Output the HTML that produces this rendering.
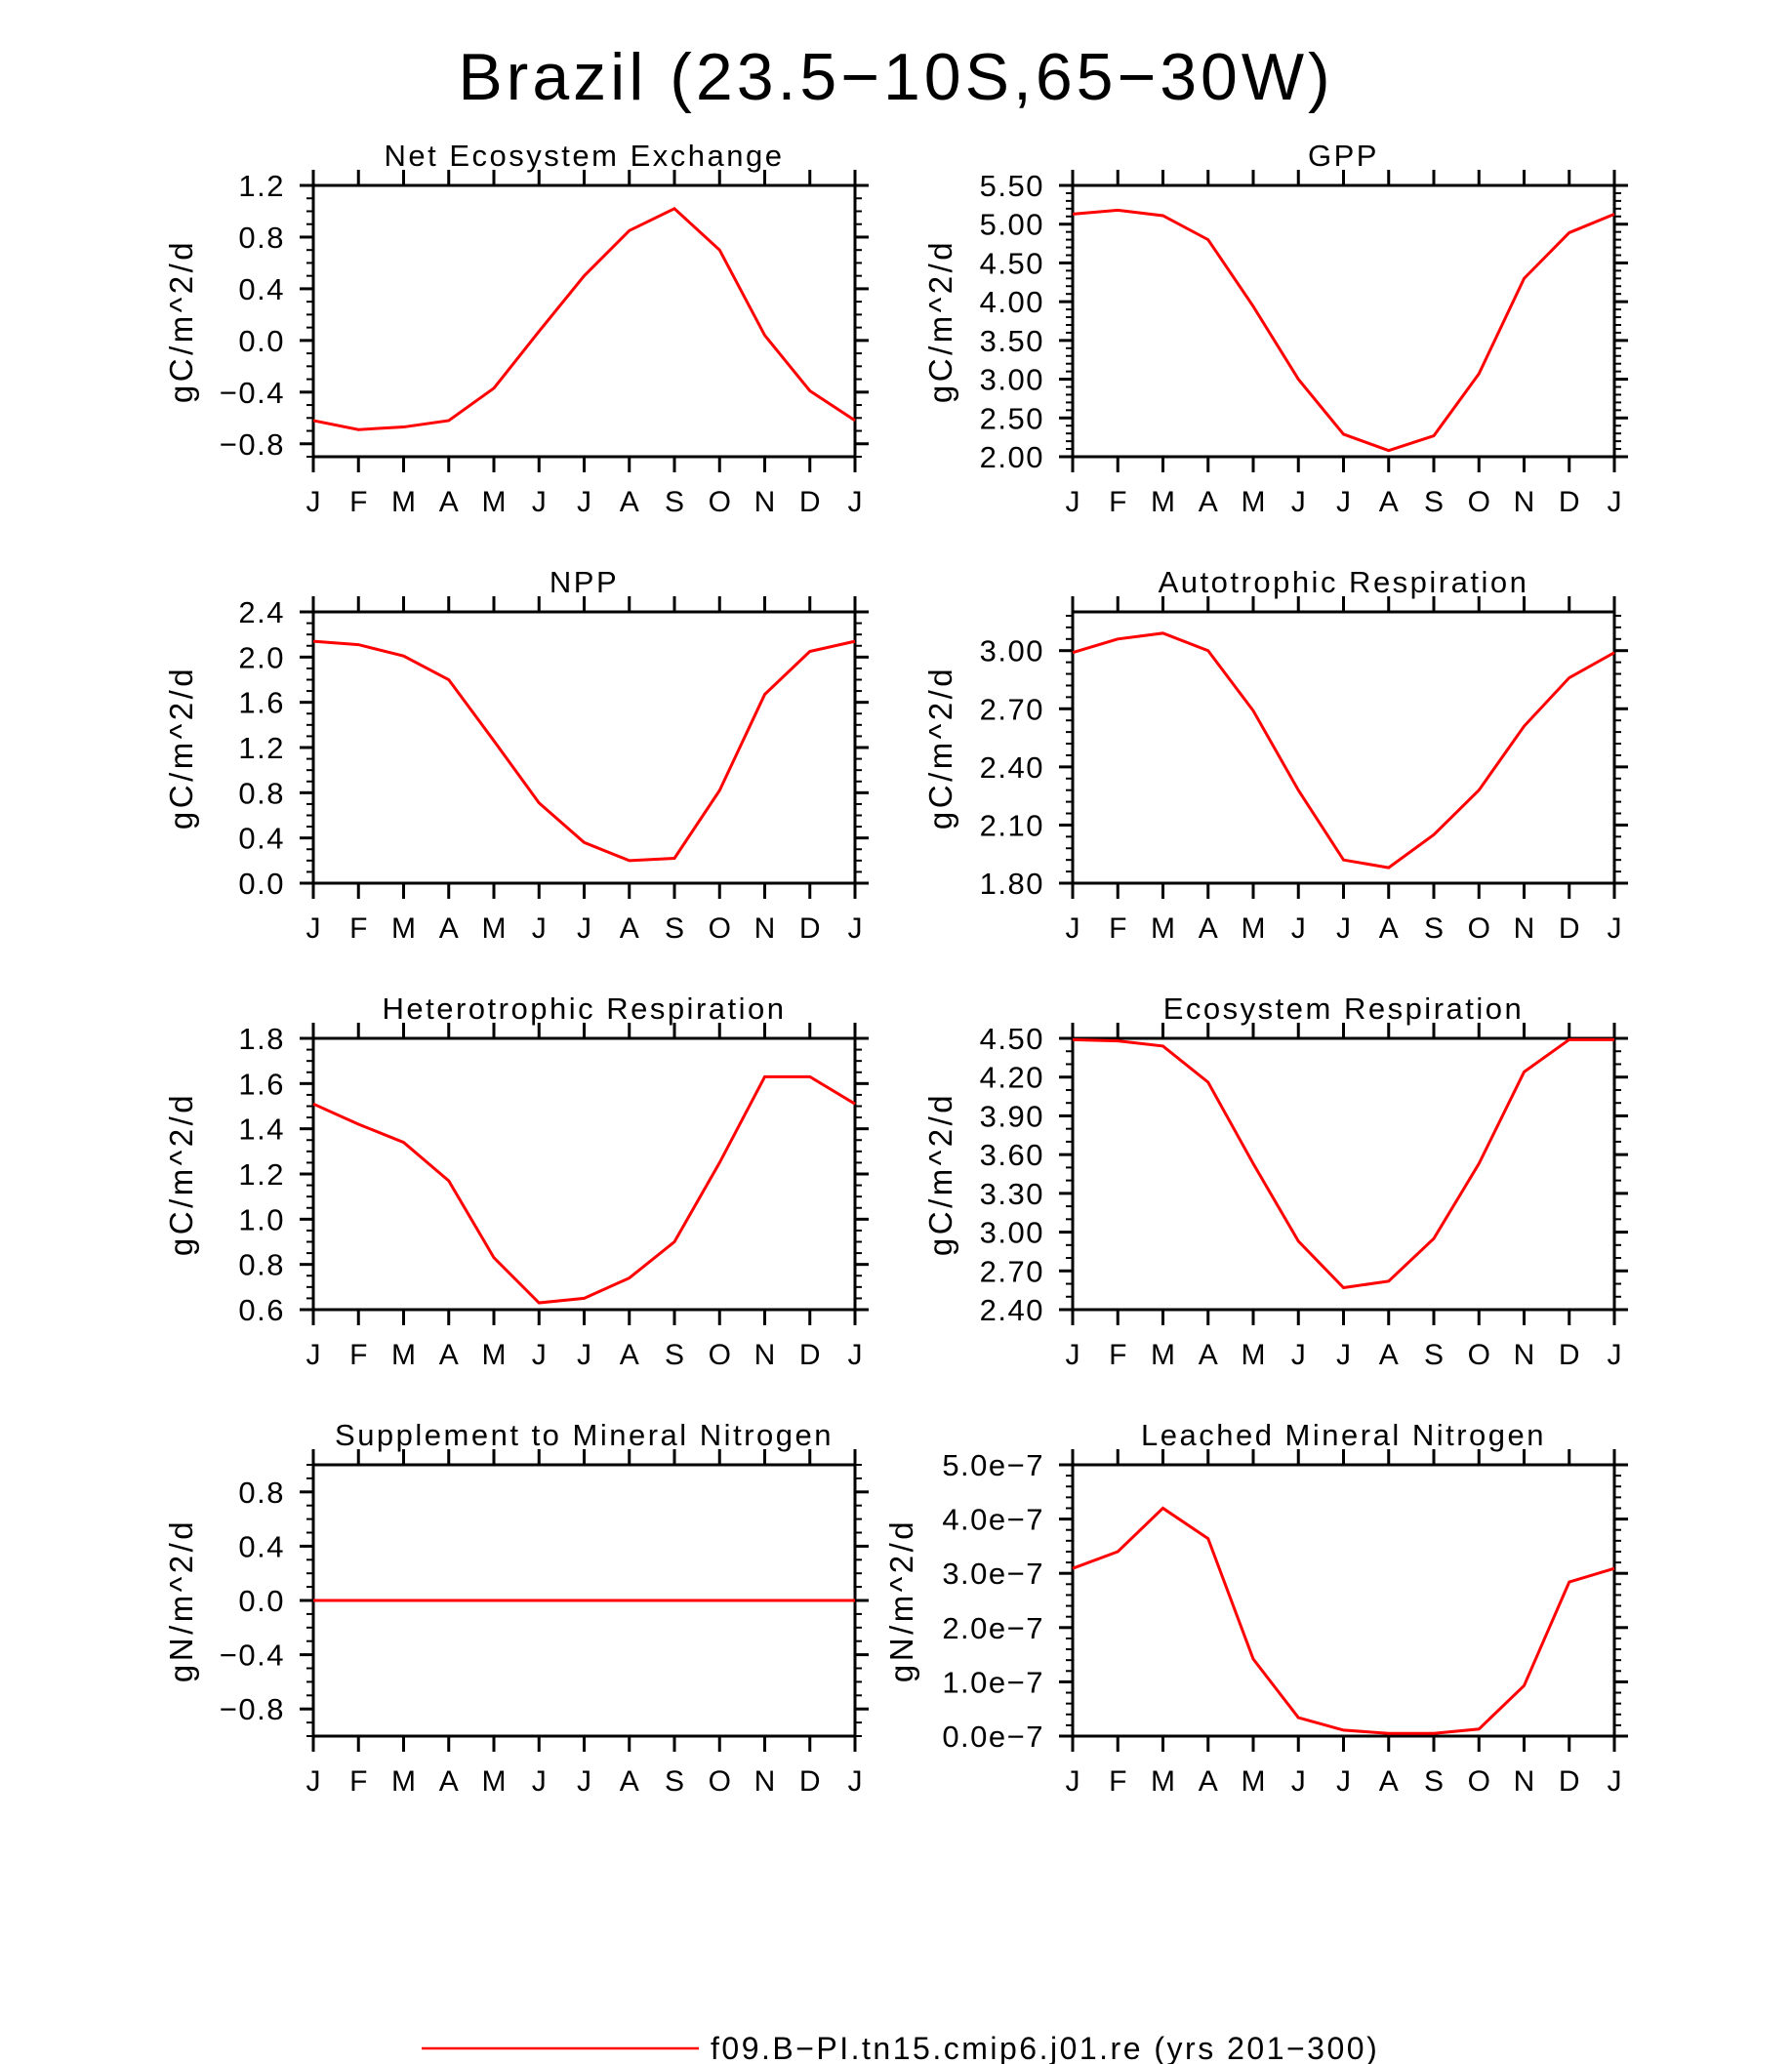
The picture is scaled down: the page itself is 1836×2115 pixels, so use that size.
<!DOCTYPE html>
<html><head><meta charset="utf-8"><style>
html,body{margin:0;padding:0;background:#fff;}
svg{display:block;font-family:"Liberation Sans","DejaVu Sans",sans-serif;}
</style></head><body>
<svg id="fig" width="1836" height="2115" viewBox="0 0 1836 2115">
<text x="918" y="102" text-anchor="middle" font-size="68" letter-spacing="4" fill="#000">Brazil (23.5−10S,65−30W)</text>
<g id="panels"></g>
<line x1="432" y1="2099" x2="716" y2="2099" stroke="#f00" stroke-width="2.5"/>
<text x="728" y="2110" font-size="32" letter-spacing="2.5" fill="#000">f09.B−PI.tn15.cmip6.j01.re (yrs 201−300)</text>
</svg>
<script>
const months = ["J","F","M","A","M","J","J","A","S","O","N","D","J"];
const neeValues = [-0.62,-0.69,-0.67,-0.62,-0.37,0.07,0.50,0.85,1.02,0.70,0.04,-0.39,-0.62];
const gppValues = [5.13,5.18,5.11,4.80,3.94,3.00,2.29,2.08,2.27,3.07,4.30,4.89,5.13];
const nppValues = [2.14,2.11,2.01,1.80,1.26,0.71,0.36,0.20,0.22,0.82,1.67,2.05,2.14];
const arValues = [2.99,3.06,3.09,3.00,2.69,2.28,1.92,1.88,2.05,2.28,2.61,2.86,2.99];
const hrValues = [1.51,1.42,1.34,1.17,0.83,0.63,0.65,0.74,0.90,1.25,1.63,1.63,1.51];
const erValues = [4.49,4.48,4.44,4.16,3.53,2.93,2.57,2.62,2.95,3.53,4.24,4.49,4.49];
const smnValues = [0,0,0,0,0,0,0,0,0,0,0,0,0];
const lmnValues = [3.09e-7,3.40e-7,4.20e-7,3.64e-7,1.42e-7,0.34e-7,0.11e-7,0.05e-7,0.05e-7,0.13e-7,0.93e-7,2.84e-7,3.09e-7];
const neeTicks = ["-0.8","-0.4","0.0","0.4","0.8","1.2"];
const gppTicks = ["2.00","2.50","3.00","3.50","4.00","4.50","5.00","5.50"];
const nppTicks = ["0.0","0.4","0.8","1.2","1.6","2.0","2.4"];
const arTicks = ["1.80","2.10","2.40","2.70","3.00"];
const hrTicks = ["0.6","0.8","1.0","1.2","1.4","1.6","1.8"];
const erTicks = ["2.40","2.70","3.00","3.30","3.60","3.90","4.20","4.50"];
const smnTicks = ["-0.8","-0.4","0.0","0.4","0.8"];
const lmnTicks = ["0.0e-7","1.0e-7","2.0e-7","3.0e-7","4.0e-7","5.0e-7"];

const NS="http://www.w3.org/2000/svg";
const root=document.getElementById('panels');
function mk(tag,attrs,parent){const e=document.createElementNS(NS,tag);for(const k in attrs)e.setAttribute(k,attrs[k]);parent.appendChild(e);return e;}
const LX=[321,1099], TY=[190,627,1064,1501], W=555, H=278;
const panels=[
 {title:"Net Ecosystem Exchange",name:"nee",vals:neeValues,ticks:neeTicks,ymin:-0.9,ymax:1.2,minor:0.1,scale:1,unit:"gC/m^2/d",col:0,row:0},
 {title:"GPP",name:"gpp",vals:gppValues,ticks:gppTicks,ymin:2.0,ymax:5.5,minor:0.1,scale:1,unit:"gC/m^2/d",col:1,row:0},
 {title:"NPP",name:"npp",vals:nppValues,ticks:nppTicks,ymin:0,ymax:2.4,minor:0.1,scale:1,unit:"gC/m^2/d",col:0,row:1},
 {title:"Autotrophic Respiration",name:"ar",vals:arValues,ticks:arTicks,ymin:1.8,ymax:3.2,minor:0.06,scale:1,unit:"gC/m^2/d",col:1,row:1},
 {title:"Heterotrophic Respiration",name:"hr",vals:hrValues,ticks:hrTicks,ymin:0.6,ymax:1.8,minor:0.05,scale:1,unit:"gC/m^2/d",col:0,row:2},
 {title:"Ecosystem Respiration",name:"er",vals:erValues,ticks:erTicks,ymin:2.4,ymax:4.5,minor:0.1,scale:1,unit:"gC/m^2/d",col:1,row:2},
 {title:"Supplement to Mineral Nitrogen",name:"smn",vals:smnValues,ticks:smnTicks,ymin:-1,ymax:1,minor:0.1,scale:1,unit:"gN/m^2/d",col:0,row:3},
 {title:"Leached Mineral Nitrogen",name:"lmn",vals:lmnValues,ticks:lmnTicks,ymin:0,ymax:5,minor:0.2,scale:1e7,unit:"gN/m^2/d",col:1,row:3}
];
panels.forEach(p=>{
 const x0=LX[p.col], y0=TY[p.row];
 const g=mk('g',{},root);
 
 
 const xs=i=>x0+i*W/12;
 const ys=v=>y0+H-(v-p.ymin)/(p.ymax-p.ymin)*H;
 months.forEach((m,i)=>{
  mk('line',{x1:xs(i),y1:y0,x2:xs(i),y2:y0-16,stroke:'#000','stroke-width':3},g);
  mk('line',{x1:xs(i),y1:y0+H,x2:xs(i),y2:y0+H+16,stroke:'#000','stroke-width':3},g);
  const t=mk('text',{x:xs(i),y:y0+H+56,'text-anchor':'middle','font-size':30,fill:'#000'},g);
  t.textContent=m;
  
  
 });
 const n=Math.round((p.ymax-p.ymin)/p.minor);
 for(let k=0;k<=n;k++){const v=p.ymin+k*p.minor;const y=ys(v);
  mk('line',{x1:x0,y1:y,x2:x0-7,y2:y,stroke:'#000','stroke-width':2},g);
  mk('line',{x1:x0+W,y1:y,x2:x0+W+7,y2:y,stroke:'#000','stroke-width':2},g);}
 p.ticks.forEach(s=>{const v=parseFloat(s)*(s.indexOf('e')>=0?1e7:1);const y=ys(v);
  mk('line',{x1:x0,y1:y,x2:x0-14,y2:y,stroke:'#000','stroke-width':3},g);
  mk('line',{x1:x0+W,y1:y,x2:x0+W+14,y2:y,stroke:'#000','stroke-width':3},g);
  const t=mk('text',{x:x0-29,y:y+11,'text-anchor':'end','font-size':31,'letter-spacing':1.5,fill:'#000'},g);
  t.textContent=s.replace(/-/g,'−');
  
  
 });
 mk('rect',{x:x0,y:y0,width:W,height:H,fill:'none',stroke:'#000','stroke-width':3},g);
 const pts=p.vals.map((v,i)=>xs(i)+','+ys(v*p.scale)).join(' ');
 const pl=mk('polyline',{points:pts,fill:'none',stroke:'#f00','stroke-width':3},g);
 
 
 const tt=mk('text',{x:x0+W/2,y:y0-20,'text-anchor':'middle','font-size':31,'letter-spacing':2.5,fill:'#000'},g);
 tt.textContent=p.title;
 
 
 const ax=(p.name==='lmn')?935:x0-124;
 const ya=mk('text',{x:ax,y:y0+H/2,'text-anchor':'middle','font-size':33,'letter-spacing':3.5,fill:'#000',transform:`rotate(-90 ${ax} ${y0+H/2})`},g);
 ya.textContent=p.unit;
 
 
});
</script>
</body></html>
